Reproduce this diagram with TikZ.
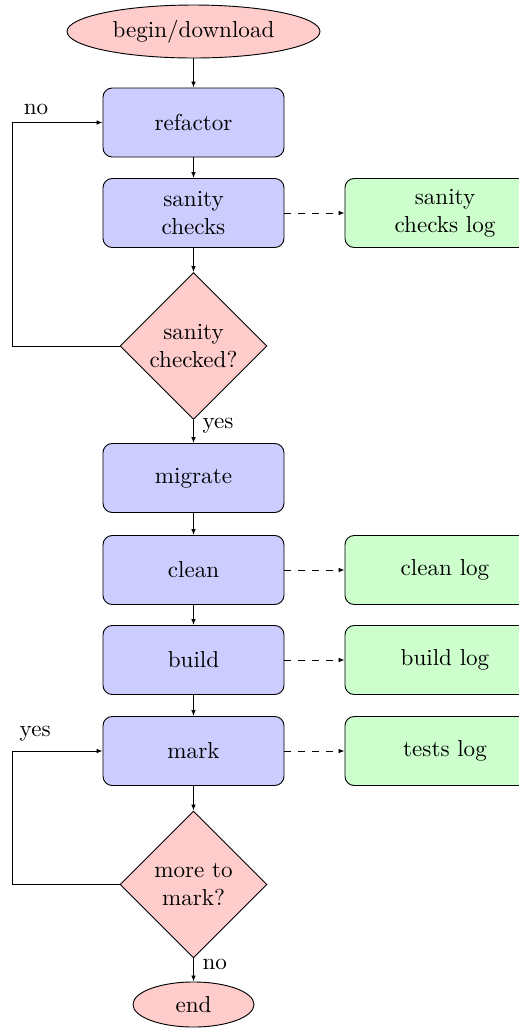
\documentclass[tikz,border=0pt]{standalone}
\usetikzlibrary{shapes.geometric,arrows.meta}
\begin{document}
\begin{tikzpicture}[x=0.4329pt,y=-0.4329pt,
  every node/.style={font=\normalsize},
  blockbox/.style={rectangle, draw, fill=blue!20, rounded corners=4pt, minimum width=78.36pt, minimum height=29.87pt, inner sep=0pt, align=center},
  logbox/.style={rectangle, draw, fill=green!20, rounded corners=4pt, minimum width=86.6pt, minimum height=29.87pt, inner sep=0pt, align=center},
  decision/.style={diamond, draw, fill=red!20, minimum width=63.6pt, minimum height=63.6pt, inner sep=0pt, align=center},
  terminal/.style={ellipse, draw, fill=red!20, inner sep=0pt},
  arrow/.style={draw, -{Latex[length=2.6pt,width=2pt]}},
  logarrow/.style={arrow, dashed},
  lbl/.style={inner sep=0pt}]
\clip (0,0) rectangle (519,1028);
\node[terminal, minimum width=109.5pt, minimum height=22.94pt] (begin) at (193.5,31.5) {begin/download};
\node[blockbox] (refactor) at (193.5,122.5) {refactor};
\node[blockbox] (sanity) at (193.5,213) {sanity\\checks};
\node[logbox] (sanitylog) at (445,213) {sanity\\checks log};
\node[decision] (dec1) at (193.5,346) {sanity\\checked?};
\node[blockbox] (migrate) at (193.5,478) {migrate};
\node[blockbox] (clean) at (193.5,570) {clean};
\node[logbox] (cleanlog) at (445,570) {clean log};
\node[blockbox] (build) at (193.5,660) {build};
\node[logbox] (buildlog) at (445,660) {build log};
\node[blockbox] (mark) at (193.5,751) {mark};
\node[logbox] (testslog) at (445,751) {tests log};
\node[decision] (dec2) at (193.5,884.5) {more to\\mark?};
\node[terminal, minimum width=52.4pt, minimum height=19.5pt] (end) at (193.5,1004.5) {end};
\coordinate (c1) at (12.3,346);
\coordinate (c2) at (12.3,122.5);
\coordinate (c3) at (12.3,884.5);
\coordinate (c4) at (12.3,751);
\draw[arrow] (begin) -- (refactor);
\draw[arrow] (refactor) -- (sanity);
\draw[arrow] (sanity) -- (dec1);
\draw[arrow] (dec1) -- node[lbl, anchor=west, pos=0.23, xshift=3.7pt] {yes} (migrate);
\draw[arrow] (migrate) -- (clean);
\draw[arrow] (clean) -- (build);
\draw[arrow] (build) -- (mark);
\draw[arrow] (mark) -- (dec2);
\draw[arrow] (dec2) -- node[lbl, anchor=west, pos=0.26, xshift=3.7pt] {no} (end);
\draw[arrow] (dec1.west) -- (c1) -- (c2) node[lbl, anchor=south west, xshift=4.8pt, yshift=3.2pt] {no} -- (refactor.west);
\draw[arrow] (dec2.west) -- (c3) -- (c4) node[lbl, anchor=south west, xshift=3pt, yshift=3.9pt] {yes} -- (mark.west);
\draw[logarrow] (sanity) -- (sanitylog);
\draw[logarrow] (clean) -- (cleanlog);
\draw[logarrow] (build) -- (buildlog);
\draw[logarrow] (mark) -- (testslog);
\end{tikzpicture}
\end{document}
